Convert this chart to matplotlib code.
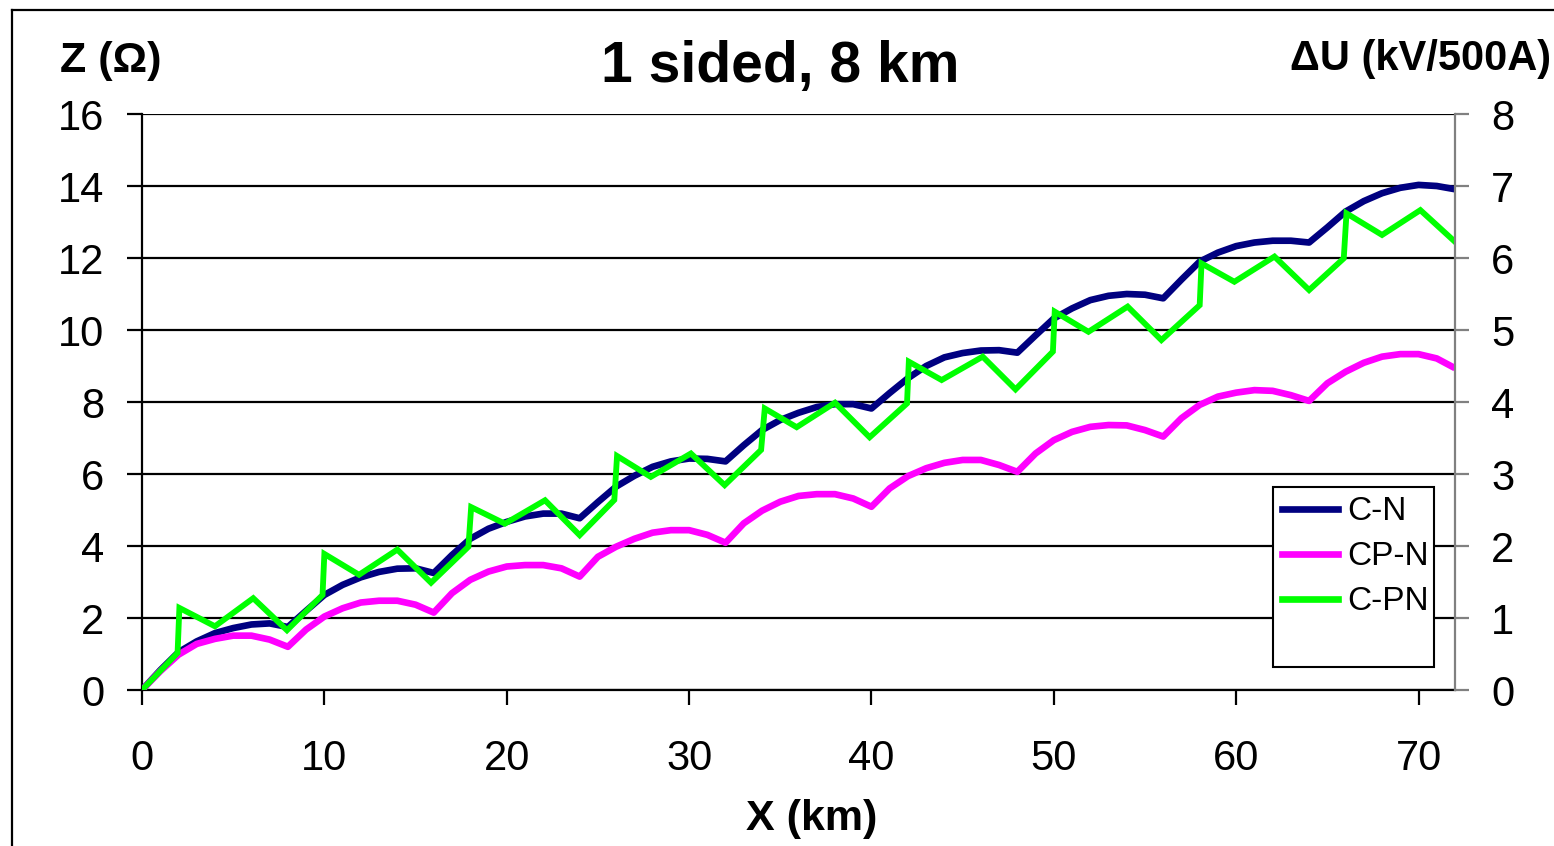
import matplotlib
matplotlib.use("Agg")
import matplotlib.pyplot as plt
from matplotlib.lines import Line2D
from matplotlib.patches import Rectangle

plt.rcParams['font.family'] = ['Liberation Sans', 'DejaVu Sans']

# Distance along the line (km), sampled every km
x_km = list(range(0, 73))

# C-N impedance (Ohm)
z_cn = [0.0, 0.55, 1.05, 1.35, 1.58, 1.72, 1.82, 1.85, 1.75, 2.2,
        2.64, 2.92, 3.13, 3.28, 3.37, 3.38, 3.25, 3.75, 4.2, 4.48,
        4.67, 4.82, 4.9, 4.9, 4.77, 5.22, 5.65, 5.95, 6.2, 6.35,
        6.43, 6.42, 6.35, 6.8, 7.22, 7.5, 7.7, 7.86, 7.94, 7.94,
        7.82, 8.25, 8.66, 9.0, 9.24, 9.36, 9.43, 9.44, 9.37, 9.85,
        10.32, 10.6, 10.83, 10.95, 11.0, 10.98, 10.88, 11.4, 11.9, 12.15,
        12.33, 12.43, 12.48, 12.48, 12.43, 12.85, 13.29, 13.58, 13.8, 13.95,
        14.03, 14.0, 13.91]

# CP-N impedance (Ohm)
z_cpn = [0.0, 0.52, 0.98, 1.28, 1.42, 1.51, 1.51, 1.40, 1.2, 1.68,
         2.04, 2.27, 2.43, 2.48, 2.48, 2.37, 2.15, 2.69, 3.06, 3.29,
         3.43, 3.47, 3.47, 3.38, 3.15, 3.7, 3.98, 4.2, 4.37, 4.44,
         4.44, 4.31, 4.09, 4.63, 4.98, 5.23, 5.39, 5.44, 5.44, 5.32,
         5.09, 5.6, 5.94, 6.16, 6.31, 6.39, 6.39, 6.25, 6.06, 6.57,
         6.94, 7.17, 7.31, 7.36, 7.35, 7.22, 7.04, 7.55, 7.92, 8.15,
         8.26, 8.33, 8.31, 8.19, 8.03, 8.52, 8.84, 9.09, 9.26, 9.33,
         9.33, 9.21, 8.94]

# C-PN impedance (Ohm) at its break points
x_cpn2 = [0, 1.95, 2.05, 4, 6.1, 7.95, 9.9, 10.0, 11.9, 14.0, 15.85, 17.9, 18.05,
          19.9, 22.1, 24.0, 25.9, 26.05, 27.9, 30.1, 31.95, 33.95, 34.15, 35.9,
          38.0, 39.9, 41.95, 42.05, 43.85, 46.1, 47.9, 49.95, 50.05, 51.9, 54.05,
          55.9, 58.0, 58.1, 59.9, 62.1, 64.0, 65.9, 66.05, 68.0, 70.1, 72.0]
z_cpn2 = [0.0, 1.03, 2.28, 1.77, 2.55, 1.66, 2.64, 3.78, 3.2, 3.9, 2.98, 3.98, 5.08,
          4.62, 5.27, 4.3, 5.28, 6.5, 5.92, 6.57, 5.69, 6.67, 7.82, 7.3,
          7.98, 7.02, 7.96, 9.12, 8.61, 9.26, 8.35, 9.4, 10.51, 9.95, 10.65,
          9.72, 10.69, 11.85, 11.34, 12.04, 11.11, 11.99, 13.24, 12.64, 13.33, 12.45]

series_names = ['C-N', 'CP-N', 'C-PN']
series_colors = ['#000080', '#ff00ff', '#00ff00']

x_ticks = [0, 10, 20, 30, 40, 50, 60, 70]
z_ticks = [0, 2, 4, 6, 8, 10, 12, 14, 16]
du_ticks = [0, 1, 2, 3, 4, 5, 6, 7, 8]

W, H = 1554, 846
fig = plt.figure(figsize=(W / 100, H / 100), dpi=100)
fig.patch.set_facecolor('white')

def fx(px):
    return px / W

def fy(py):
    return 1 - py / H

ax = fig.add_axes([fx(142), fy(690), fx(1455) - fx(142), fy(114) - fy(690)])
ax.set_xlim(0, 72)
ax.set_ylim(0, 16)

ax.plot(x_km, z_cn, color=series_colors[0], lw=4.8, solid_capstyle='butt', zorder=3)
ax.plot(x_km, z_cpn, color=series_colors[1], lw=4.8, solid_capstyle='butt', zorder=3.1)
ax.plot(x_cpn2, z_cpn2, color=series_colors[2], lw=4.2, solid_joinstyle='miter', zorder=3.2)

ax.set_xticks(x_ticks)
ax.set_yticks(z_ticks)
ax.yaxis.grid(True, color='black', lw=1.6)
ax.set_axisbelow(True)
for s in ['top', 'right']:
    ax.spines[s].set_visible(False)
for s in ['left', 'bottom']:
    ax.spines[s].set_color('black')
    ax.spines[s].set_linewidth(1.6)
ax.tick_params(axis='both', direction='out', length=11, width=1.6, colors='black',
               labelsize=30)
ax.tick_params(axis='y', pad=16)
ax.tick_params(axis='x', pad=24)

ax2 = ax.twinx()
ax2.set_ylim(0, 8)
ax2.set_yticks(du_ticks)
for s in ['top', 'left', 'bottom']:
    ax2.spines[s].set_visible(False)
ax2.spines['right'].set_color('#808080')
ax2.spines['right'].set_linewidth(1.6)
ax2.tick_params(axis='y', direction='out', length=10, width=1.6, color='#808080',
                labelcolor='black', labelsize=30, pad=16)

# Legend box
ax2.add_patch(Rectangle((fx(1273), fy(667)), fx(1434) - fx(1273), fy(487) - fy(667),
                        transform=fig.transFigure, facecolor='white',
                        edgecolor='black', lw=1.5, clip_on=False, zorder=5))
handles = [Line2D([], [], color=c, lw=4.8) for c in series_colors]
leg = ax2.legend(handles, series_names, loc='upper left',
                 bbox_to_anchor=(fx(1279), fy(493)), bbox_transform=fig.transFigure,
                 frameon=False, fontsize=24, handlelength=1.68, handletextpad=0.27,
                 labelspacing=0.42, borderaxespad=0, borderpad=0.1)
leg.set_zorder(6)

# Titles
fig.text(fx(780), fy(82), '1 sided, 8 km', ha='center', va='baseline',
         fontsize=41, fontweight='bold')
fig.text(fx(60), fy(72), 'Z (Ω)', ha='left', va='baseline',
         fontsize=31, fontweight='bold')
fig.text(fx(1551), fy(70), 'ΔU (kV/500A)', ha='right', va='baseline',
         fontsize=30, fontweight='bold')
fig.text(fx(812), fy(830), 'X (km)', ha='center', va='baseline',
         fontsize=31, fontweight='bold')

# Outer chart frame
fig.add_artist(Line2D([fx(12), fx(12)], [fy(10), 0], color='black', lw=1.6,
                      transform=fig.transFigure))
fig.add_artist(Line2D([fx(12), 1], [fy(10), fy(10)], color='black', lw=1.6,
                      transform=fig.transFigure))

fig.savefig('out.png', dpi=100)
